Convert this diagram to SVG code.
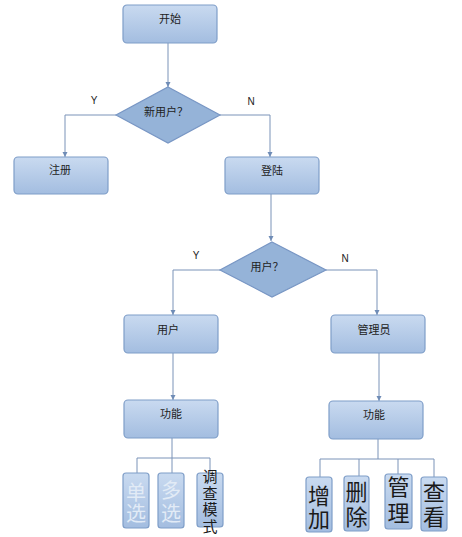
<svg xmlns="http://www.w3.org/2000/svg" width="462" height="537" viewBox="0 0 462 537">
<defs>
<linearGradient id="bg" x1="0" y1="0" x2="0" y2="1">
<stop offset="0" stop-color="#c9daf0"/>
<stop offset="1" stop-color="#a3bde0"/>
</linearGradient>
<marker id="ah" markerWidth="6" markerHeight="6" refX="5" refY="3" orient="auto" markerUnits="userSpaceOnUse">
<path d="M0,0.5 L5,3 L0,5.5 Z" fill="#6f8cb6"/>
</marker>
<style>
.box{fill:url(#bg);stroke:#7f9ec8;stroke-width:1.2}
.dia{fill:#95b3d8;stroke:#7896c4;stroke-width:1.2}
.t{font-family:"Noto Sans CJK SC","Liberation Sans",sans-serif;font-size:11px;fill:#222;text-anchor:middle}
.lbl{font-family:"Liberation Sans",sans-serif;font-size:10px;fill:#222;text-anchor:middle}
.c{fill:none;stroke:#7a93b8;stroke-width:1}
.v{writing-mode:vertical-rl;text-anchor:middle;font-family:"Noto Sans CJK SC",sans-serif}
.big{font-size:22px;fill:#1a1a1a}
.lt{font-size:20px;fill:#e2ebf6}
.sm{font-size:15px;fill:#1a1a1a}
</style>
</defs>
<rect width="462" height="537" fill="#ffffff"/>
<g id="connectors">
<path class="c" d="M168,43 V87" marker-end="url(#ah)"/>
<path class="c" d="M116,115 H65 V157" marker-end="url(#ah)"/>
<path class="c" d="M220,115 H270 V157" marker-end="url(#ah)"/>
<path class="c" d="M271,194 V241" marker-end="url(#ah)"/>
<path class="c" d="M220,270 H173 V315" marker-end="url(#ah)"/>
<path class="c" d="M326,270 H377 V315" marker-end="url(#ah)"/>
<path class="c" d="M173,353 V400" marker-end="url(#ah)"/>
<path class="c" d="M379,353 V401" marker-end="url(#ah)"/>
<path class="c" d="M172,438 V473 M137,458 H210 M137,458 V473 M210,458 V473"/>
<path class="c" d="M378,439 V459 M320,459 H434 M320,459 V477 M359,459 V476 M398,459 V474 M434,459 V477"/>
<text class="lbl" x="94" y="104">Y</text>
<text class="lbl" x="251" y="105">N</text>
<text class="lbl" x="196" y="259">Y</text>
<text class="lbl" x="345" y="262">N</text>
</g>
<g id="start"><rect class="box" x="123" y="5" width="94" height="38" rx="4"/><text class="t" x="170" y="23">开始</text></g>
<g id="newuser"><polygon class="dia" points="168,87 220,115 168,143 116,115"/><text class="t" x="166" y="116">新用户？</text></g>
<g id="register"><rect class="box" x="14" y="157" width="94" height="37" rx="4"/><text class="t" x="60" y="174">注册</text></g>
<g id="login"><rect class="box" x="225" y="157" width="94" height="37" rx="4"/><text class="t" x="272" y="175">登陆</text></g>
<g id="isuser"><polygon class="dia" points="272,242 326,270 272,297 220,270"/><text class="t" x="267" y="271">用户？</text></g>
<g id="user"><rect class="box" x="124" y="315" width="94" height="38" rx="4"/><text class="t" x="168" y="334">用户</text></g>
<g id="admin"><rect class="box" x="331" y="315" width="94" height="38" rx="4"/><text class="t" x="374" y="334">管理员</text></g>
<g id="func1"><rect class="box" x="124" y="400" width="94" height="38" rx="4"/><text class="t" x="171" y="418">功能</text></g>
<g id="func2"><rect class="box" x="329" y="401" width="94" height="38" rx="4"/><text class="t" x="374" y="419">功能</text></g>
<g id="single"><rect class="box" x="123" y="473" width="26" height="55" rx="3"/><text class="v lt" x="136" y="503" letter-spacing="1">单选</text></g>
<g id="multi"><rect class="box" x="158" y="473" width="26" height="55" rx="3"/><text class="v lt" x="171" y="503" letter-spacing="3">多选</text></g>
<g id="survey"><rect class="box" x="197" y="473" width="26" height="54" rx="3"/><text class="v sm" x="210" y="502" letter-spacing="1.5">调查模式</text></g>
<g id="add"><rect class="box" x="306" y="477" width="26" height="55" rx="3"/><text class="v big" x="319" y="507.5" letter-spacing="1">增加</text></g>
<g id="delete"><rect class="box" x="344" y="476" width="25" height="55" rx="3"/><text class="v big" x="356.5" y="506" letter-spacing="3">删除</text></g>
<g id="manage"><rect class="box" x="385" y="474" width="27" height="55" rx="3"/><text class="v big" x="398.5" y="502" letter-spacing="4">管理</text></g>
<g id="view"><rect class="box" x="421" y="477" width="26" height="54" rx="3"/><text class="v big" x="434" y="506" letter-spacing="3">查看</text></g>
</svg>
